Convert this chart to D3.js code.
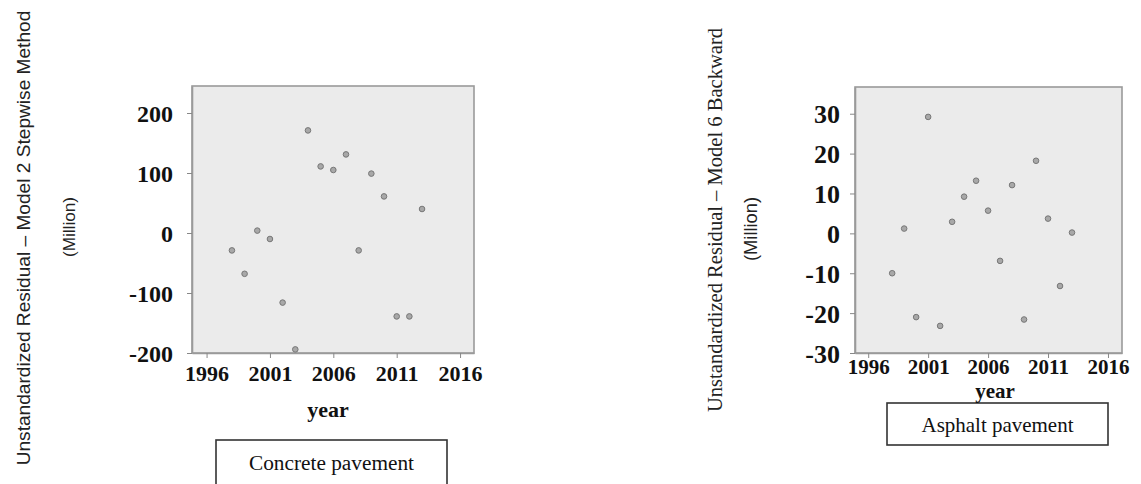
<!DOCTYPE html>
<html>
<head>
<meta charset="utf-8">
<script src="https://cdn.jsdelivr.net/npm/d3@7/dist/d3.min.js"></script>
<style>
  html, body { margin: 0; padding: 0; background: #fff; }
  svg { display: block; }
</style>
</head>
<body>
<svg id="chart" width="1141" height="484"></svg>
<script>
// Years of observation
const years = [1998, 1999, 2000, 2001, 2002, 2003, 2004, 2005, 2006, 2007, 2008, 2009, 2010, 2011, 2012, 2013];

// Unstandardized residuals (million) for each pavement model
const concreteResiduals = [-29, -68, 4, -10, -116, -194, 171, 111, 105, 131, -29, 99, 61, -139, -139, 40];
const asphaltResiduals  = [-10, 1.2, -21, 29.2, -23.2, 2.9, 9.2, 13.2, 5.7, -6.9, 12.1, -21.6, 18.2, 3.7, -13.2, 0.2];

// Axis tick values
const yearTicks = [1996, 2001, 2006, 2011, 2016];
const concreteTicks = [-200, -100, 0, 100, 200];
const asphaltTicks = [-30, -20, -10, 0, 10, 20, 30];

// Titles
const concreteTitle = "Unstandardized Residual \u2013 Model 2 Stepwise Method";
const asphaltTitle = "Unstandardized Residual \u2013 Model 6 Backward";
const unitLabel = "(Million)";
const xTitle = "year";
const concreteLegend = "Concrete pavement";
const asphaltLegend = "Asphalt pavement";

const svg = d3.select("#chart");
const serif = "'Liberation Serif', 'Times New Roman', serif";
const narrow = "'Liberation Sans Narrow', 'Arial Narrow', 'Liberation Sans', sans-serif";

// plain hyphen for negative numbers
const numFmt = d => String(d);

// Set font size so a text element spans the given length
function fitText(sel, len) {
  const node = sel.node();
  const fs = parseFloat(sel.attr("font-size"));
  const w = node.getComputedTextLength();
  if (w > 0) sel.attr("font-size", (fs * len / w).toFixed(2));
}

function panel(cfg) {
  const g = svg.append("g");
  const x = d3.scaleLinear().domain(cfg.xDomain).range([cfg.left, cfg.right]);
  const y = d3.scaleLinear().domain(cfg.yDomain).range([cfg.bottom, cfg.top]);

  // plot background
  g.append("rect")
    .attr("x", cfg.left).attr("y", cfg.top)
    .attr("width", cfg.right - cfg.left).attr("height", cfg.bottom - cfg.top)
    .attr("fill", "#ebebeb").attr("stroke", "#9a9a9a").attr("stroke-width", 1.6);

  // y axis
  const yAxis = g.append("g")
    .attr("transform", `translate(${cfg.left},0)`)
    .call(d3.axisLeft(y).tickValues(cfg.yTicks).tickFormat(numFmt).tickSize(5).tickPadding(cfg.yPad).tickSizeOuter(0));
  yAxis.select(".domain").attr("stroke", "#9a9a9a").attr("stroke-width", 1.6);
  yAxis.selectAll(".tick line").attr("stroke", "#888");
  yAxis.selectAll(".tick text")
    .attr("font-family", serif).attr("font-size", cfg.yFont).attr("font-weight", "bold")
    .attr("fill", "#111").attr("dy", "0.35em");

  // x axis
  const xAxis = g.append("g")
    .attr("transform", `translate(0,${cfg.bottom})`)
    .call(d3.axisBottom(x).tickValues(yearTicks).tickFormat(numFmt).tickSize(5).tickPadding(cfg.xPad).tickSizeOuter(0));
  xAxis.select(".domain").attr("stroke", "#9a9a9a").attr("stroke-width", 1.6);
  xAxis.selectAll(".tick line").attr("stroke", "#888");
  xAxis.selectAll(".tick text")
    .attr("font-family", serif).attr("font-size", cfg.xFont).attr("font-weight", "bold")
    .attr("fill", "#111").attr("dy", "0.71em");

  // residual points
  g.append("g").selectAll("circle")
    .data(years.map((yr, i) => ({ yr, v: cfg.values[i] })))
    .join("circle")
    .attr("cx", d => x(d.yr)).attr("cy", d => y(d.v))
    .attr("r", 2.8)
    .attr("fill", "#a8a8a8").attr("stroke", "#777").attr("stroke-width", 1);

  // vertical titles
  const t1 = g.append("text")
    .attr("transform", `translate(${cfg.titleX},${cfg.titleY}) rotate(-90)`)
    .attr("text-anchor", "middle").attr("dominant-baseline", "central")
    .attr("font-family", cfg.titleFont).attr("font-size", 17).attr("fill", "#222")
    .text(cfg.title);
  fitText(t1, cfg.titleLen);

  const t2 = g.append("text")
    .attr("transform", `translate(${cfg.unitX},${cfg.unitY}) rotate(-90)`)
    .attr("text-anchor", "middle").attr("dominant-baseline", "central")
    .attr("font-family", narrow).attr("font-size", 14).attr("fill", "#222")
    .text(unitLabel);
  fitText(t2, cfg.unitLen);

  // legend box
  g.append("rect")
    .attr("x", cfg.box[0]).attr("y", cfg.box[1])
    .attr("width", cfg.box[2]).attr("height", cfg.box[3])
    .attr("fill", "#fff").attr("stroke", "#333").attr("stroke-width", 1.6);
  const lt = g.append("text")
    .attr("x", cfg.box[0] + cfg.box[2] / 2).attr("y", cfg.legendY)
    .attr("text-anchor", "middle")
    .attr("font-family", serif).attr("font-size", 18).attr("fill", "#111")
    .text(cfg.legend);
  fitText(lt, cfg.legendLen);

  // x title (drawn after the box so its descender stays visible)
  g.append("text")
    .attr("x", cfg.yearX).attr("y", cfg.yearY)
    .attr("text-anchor", "middle")
    .attr("font-family", serif).attr("font-size", cfg.yearFont).attr("font-weight", "bold").attr("fill", "#111")
    .text(xTitle);
}

panel({
  values: concreteResiduals,
  xDomain: [1994.85, 2017.1], yDomain: [-200, 245],
  left: 192, right: 474, top: 86, bottom: 353,
  yTicks: concreteTicks, yFont: 24, xFont: 22, yPad: 14, xPad: 7,
  title: concreteTitle, titleFont: narrow, titleX: 23, titleY: 238, titleLen: 455,
  unitX: 69, unitY: 227, unitLen: 60,
  yearX: 328, yearY: 417, yearFont: 22,
  box: [216, 440, 231, 60], legendY: 470, legend: concreteLegend, legendLen: 165
});

panel({
  values: asphaltResiduals,
  xDomain: [1994.9, 2017.17], yDomain: [-30, 36.7],
  left: 855, right: 1122, top: 87, bottom: 353,
  yTicks: asphaltTicks, yFont: 26, xFont: 21, yPad: 10, xPad: 1,
  title: asphaltTitle, titleFont: serif, titleX: 715, titleY: 220, titleLen: 384,
  unitX: 750, unitY: 229, unitLen: 64,
  yearX: 995, yearY: 398, yearFont: 21,
  box: [887, 403, 221, 42], legendY: 432, legend: asphaltLegend, legendLen: 152
});
</script>
</body>
</html>
